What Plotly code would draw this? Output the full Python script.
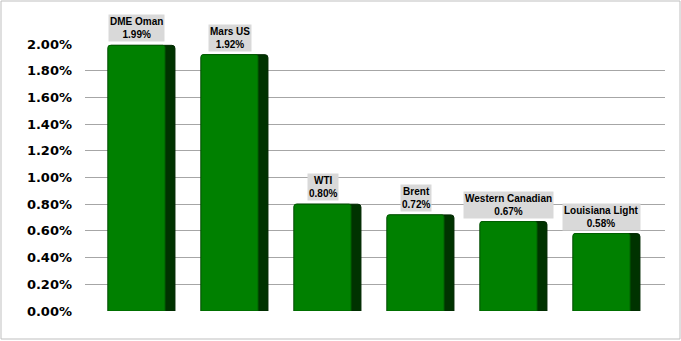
import plotly.graph_objects as go

categories = ["DME Oman", "Mars US", "WTI", "Brent", "Western Canadian", "Louisiana Light"]
values = [0.0199, 0.0192, 0.0080, 0.0072, 0.0067, 0.0058]
tick_vals = [i * 0.002 for i in range(11)]

W, H = 681, 341
ml, mr, mt, mb = 85, 16, 44, 30
pw, ph = W - ml - mr, H - mt - mb

xs = list(range(len(categories)))
front_w = 0.613
total_w = 0.72

fig = go.Figure()
# dark side (full depth bar behind)
fig.add_trace(go.Bar(
    x=xs, y=values, width=total_w, offset=0,
    marker=dict(color="#003300", line=dict(color="#002800", width=1), cornerradius=3),
    hoverinfo="skip", showlegend=False,
))
# front face
fig.add_trace(go.Bar(
    x=xs, y=values, width=front_w, offset=0,
    marker=dict(color="#008000", line=dict(color="#006000", width=1), cornerradius=2),
    hoverinfo="skip", showlegend=False,
))

for i, (c, v) in enumerate(zip(categories, values)):
    fig.add_annotation(
        x=i + front_w / 2, y=v, xref="x", yref="y",
        text=f"<b>{c}<br>{v*100:.2f}%</b>",
        showarrow=False, yanchor="bottom", yshift=3,
        bgcolor="#d9d9d9", borderpad=1,
        font=dict(family="Liberation Sans, Arial", size=10, color="black"),
    )

x_left = -(108 - ml) / 93
x_right = x_left + pw / 93

fig.add_shape(type="rect", xref="paper", yref="paper",
              x0=-(ml - 1) / pw, x1=1 + (mr - 1) / pw,
              y0=-(mb - 2) / ph, y1=1 + (mt - 1) / ph,
              line=dict(color="#bfbfbf", width=1), fillcolor="rgba(0,0,0,0)", layer="below")

fig.update_layout(
    width=W, height=H,
    margin=dict(l=ml, r=mr, t=mt, b=mb),
    plot_bgcolor="white", paper_bgcolor="white",
    barmode="overlay",
    xaxis=dict(range=[x_left, x_right], showticklabels=False, showgrid=False,
               zeroline=False, showline=False, fixedrange=True),
    yaxis=dict(range=[0, 0.02], tickvals=tick_vals, tickformat=".2%",
               showgrid=True, gridcolor="#a6a6a6", gridwidth=1,
               zeroline=False, showline=False, ticklabelstandoff=12,
               tickfont=dict(family="DejaVu Sans", size=13, color="black", weight="bold")),
)

fig.write_html("out.html")
